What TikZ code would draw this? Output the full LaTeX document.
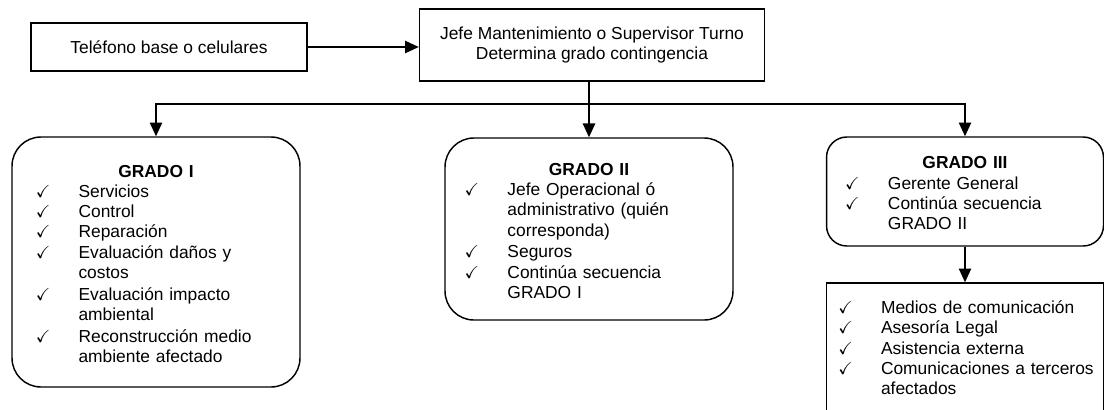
\documentclass[tikz,border=0pt]{standalone}
\usepackage{amssymb}
\usepackage{fontspec}
\setmainfont{Liberation Sans}
\usetikzlibrary{arrows.meta}

\newlength{\chkind}
\setlength{\chkind}{30pt}
\newcommand{\chk}[1]{\par\noindent\makebox[\chkind][l]{\hspace{0.5pt}$\checkmark$}%
  \parbox[t]{\dimexpr\linewidth-\chkind}{\raggedright\strut #1\strut}}
\newcommand{\gtitle}[1]{\centerline{\rule{0pt}{15pt}\bfseries #1}}

\begin{document}
\begin{tikzpicture}
	 [x=0.69pt,y=-0.69pt,line width=1pt,
	  every node/.style={font=\fontsize{12}{14}\selectfont},
	  box/.style={draw,rectangle,inner sep=0pt},
	  grado/.style={draw,rounded corners=20pt,align=left,inner ysep=0pt},
	  arr/.style={-{Triangle[length=9.5pt,width=8.5pt]}}]
	\useasboundingbox (0,0) rectangle (1104,409);

	  \node (tel)[box,minimum width=190.4pt,minimum height=33.1pt] at (169,47) {Teléfono base o celulares};
	  \node (jefe)[box,align=center,minimum width=238pt,minimum height=49.7pt] at (592,45)
	    {Jefe Mantenimiento o Supervisor Turno\\Determina grado contingencia};

	  \node (g1)[grado,inner xsep=15.9pt,text width=166.9pt,minimum height=172.5pt] at (156,262)
	    {\gtitle{GRADO I}
	     \chk{Servicios}
	     \chk{Control}
	     \chk{Reparación}
	     \chk{Evaluación daños y\newline costos}
	     \chk{Evaluación impacto\newline ambiental}
	     \chk{Reconstrucción medio\newline ambiente afectado}\par};
	  \node (g2)[grado,inner xsep=13.1pt,text width=172.5pt,minimum height=125.6pt] at (589,229)
	    {\gtitle{GRADO II}
	     \chk{Jefe Operacional ó\newline administrativo (quién\newline corresponda)}
	     \chk{Seguros}
	     \chk{Continúa secuencia\newline GRADO I}\par};
	  \node (g3)[grado,rounded corners=14pt,inner xsep=12.4pt,text width=166.3pt,minimum height=75.2pt] at (965,191.5)
	    {\gtitle{GRADO III}
	     \chk{Gerente General}
	     \chk{Continúa secuencia\newline GRADO II}\par};
	  \node (ext)[box,align=left,inner xsep=7.6pt,text width=175.9pt,minimum height=88.3pt] at (965,347)
	    {\chk{Medios de comunicación}
	     \chk{Asesoría Legal}
	     \chk{Asistencia externa}
	     \chk{\mbox{Comunicaciones a terceros}\newline afectados}\par};

	\coordinate (bus) at (589,104);
	\draw[arr] (tel.east) -- (tel.east -| jefe.west);
	\draw (jefe.south -| bus) -- (bus);
	\foreach \to in {g1,g2,g3}
    \draw[arr] (bus) -| (\to.north);
	\draw[arr] (g3) -- (ext);

\end{tikzpicture}
\end{document}
